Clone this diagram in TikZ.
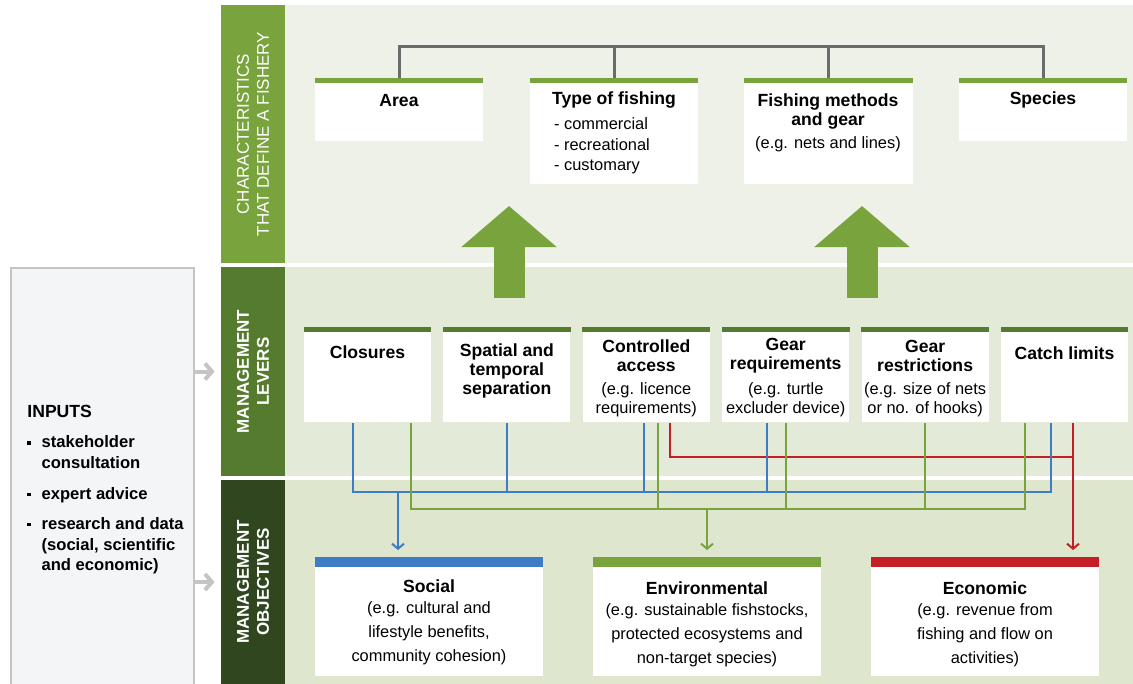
\documentclass[tikz,border=0pt]{standalone}
\usepackage{fontspec}
\setmainfont{Liberation Sans}
\usetikzlibrary{arrows.meta}

\definecolor{leafgreen}{HTML}{79A33D}
\definecolor{levergreen}{HTML}{557B2E}
\definecolor{darkgreen}{HTML}{2F461E}
\definecolor{topbg}{HTML}{EEF1E7}
\definecolor{midbg}{HTML}{E4EAD8}
\definecolor{lowbg}{HTML}{DEE6CD}
\definecolor{socialblue}{HTML}{3E7DC5}
\definecolor{econred}{HTML}{C41F27}
\definecolor{inputgray}{HTML}{F4F5F7}
\definecolor{edgegray}{HTML}{C4C4C4}
\definecolor{treegray}{HTML}{6B6B6B}
\newcommand{\dotmark}{\raisebox{1.6pt}{\rule{1.6pt}{1.6pt}}}

\begin{document}
\begin{tikzpicture}[x=0.5pt,y=-0.5pt]
\tikzstyle{band}=[rectangle,inner sep=0pt,minimum width=32pt]
\tikzstyle{bandtext}=[font=\fontsize{8.5}{10}\selectfont\bfseries,text=white,align=center,rotate=90]
\tikzstyle{box}=[rectangle,fill=white,inner sep=0pt,anchor=north]
\tikzstyle{title}=[font=\fontsize{8.8}{9.5}\selectfont\bfseries,align=center,inner sep=0pt]
\tikzstyle{note}=[font=\fontsize{8.2}{9.5}\selectfont,align=center,inner sep=0pt]
\tikzstyle{objnote}=[font=\fontsize{8.2}{11.9}\selectfont,align=center,inner sep=0pt]
\tikzstyle{wire}=[line width=1pt]
\tikzstyle{wiretip}=[-{Straight Barb[length=2.5pt,width=6pt]},shorten >=3.5pt]
\useasboundingbox (0,0) rectangle (1133,684);
% bands
\fill[topbg] (285,5) rectangle (1133,263);
\fill[midbg] (285,267) rectangle (1133,476);
\fill[lowbg] (285,480) rectangle (1133,684);
\node[band,fill=leafgreen,minimum height=129pt] (charband) at (253,134) {};
\node[band,fill=levergreen,minimum height=104.5pt] (leverband) at (253,371.5) {};
\node[band,fill=darkgreen,minimum height=102pt] (goalband) at (253,582) {};
\node[bandtext,font=\fontsize{8.5}{10}\selectfont] (chartext) at (charband) {CHARACTERISTICS\\THAT DEFINE A FISHERY};
\node[bandtext] (levertext) at (leverband) {MANAGEMENT\\LEVERS};
\node[bandtext] (goaltext) at (goalband) {MANAGEMENT\\OBJECTIVES};

% inputs
\node[rectangle,draw=edgegray,line width=1pt,fill=inputgray,minimum width=91.5pt,minimum height=216pt,anchor=north west,inner sep=0pt] (inputs) at (10,267) {};
\node[anchor=north west,inner sep=0pt,font=\fontsize{8.3}{10.3}\selectfont\bfseries] (inputlist) at (27,403) {\begin{tabular}{@{}l@{\hspace{5.5pt}}l@{}}
\multicolumn{2}{@{}l@{}}{\fontsize{8.8}{10.3}\selectfont INPUTS}\\[4.7pt]
\dotmark & stakeholder\\
 & consultation\\[5pt]
\dotmark & expert advice\\[5pt]
\dotmark & research and data\\
 & (social, scientific\\
 & and economic)
\end{tabular}};
\draw[edgegray,line width=2pt,-{Straight Barb[length=3.5pt,width=8pt]}] (inputs.east |- leverband) -- ([xshift=-3pt]leverband.west);
\draw[edgegray,line width=2pt,-{Straight Barb[length=3.5pt,width=8pt]}] (inputs.east |- goalband) -- ([xshift=-3pt]goalband.west);

% characteristics
\node[box,minimum width=84pt,minimum height=31.5pt] (area) at (399,78) {};
\node[box,minimum width=84pt,minimum height=53pt] (fishtype) at (614,78) {};
\node[box,minimum width=84.5pt,minimum height=53pt] (methods) at (828.5,78) {};
\node[box,minimum width=84pt,minimum height=31.5pt] (species) at (1043,78) {};
\draw[treegray,line width=1.5pt] (area.north) -- ++(0,-31) -| (species.north);
\draw[treegray,line width=1.5pt] (fishtype.north) -- ++(0,-31);
\draw[treegray,line width=1.5pt] (methods.north) -- ++(0,-31);
\fill[leafgreen] (area.north west) rectangle ([yshift=-2.5pt]area.north east);
\fill[leafgreen] (fishtype.north west) rectangle ([yshift=-2.5pt]fishtype.north east);
\fill[leafgreen] (methods.north west) rectangle ([yshift=-2.5pt]methods.north east);
\fill[leafgreen] (species.north west) rectangle ([yshift=-2.5pt]species.north east);
\node[title] (areatxt) at (399,101) {Area};
\node[title] (typetxt) at (614,100) {Type of fishing};
\node[note,font=\fontsize{8.2}{10.25}\selectfont,align=left] (typelist) at (602,146) {- commercial\\- recreational\\- customary};
\node[title] (methodstxt) at (828,111) {Fishing methods\\and gear};
\node[note] (methodsnote) at (828,144) {(e.g. nets and lines)};
\node[title] (speciestxt) at (1043,100) {Species};

% big arrows
\coordinate (liftA) at (509,298);
\coordinate (liftB) at (862,298);
\draw[leafgreen,line width=15.5pt,-{Triangle[width=46.5pt,length=20.5pt]}] (liftA) -- ++(0,-92);
\draw[leafgreen,line width=15.5pt,-{Triangle[width=46.5pt,length=20.5pt]}] (liftB) -- ++(0,-92);

% levers
\tikzstyle{lever}=[box,minimum width=63.5pt,minimum height=47.5pt]
\node[lever] (closures) at (367.5,327) {};
\node[lever] (spatial) at (506.9,327) {};
\node[lever] (access) at (646.3,327) {};
\node[lever] (gearreq) at (785.7,327) {};
\node[lever] (gearres) at (925.1,327) {};
\node[lever] (catch) at (1064.5,327) {};
\fill[levergreen] (closures.north west) rectangle ([yshift=-2.5pt]closures.north east);
\fill[levergreen] (spatial.north west) rectangle ([yshift=-2.5pt]spatial.north east);
\fill[levergreen] (access.north west) rectangle ([yshift=-2.5pt]access.north east);
\fill[levergreen] (gearreq.north west) rectangle ([yshift=-2.5pt]gearreq.north east);
\fill[levergreen] (gearres.north west) rectangle ([yshift=-2.5pt]gearres.north east);
\fill[levergreen] (catch.north west) rectangle ([yshift=-2.5pt]catch.north east);
\node[title] (closurestxt) at (367.5,352) {Closures};
\node[title] (spatialtxt) at (506.9,370.5) {Spatial and\\temporal\\separation};
\node[title] (accesstxt) at (646.3,356) {Controlled\\access};
\node[note] (accessnote) at (646.3,400) {(e.g. licence\\requirements)};
\node[title] (gearreqtxt) at (785.7,356) {Gear\\requirements};
\node[note] (gearreqnote) at (785.7,400) {(e.g. turtle\\excluder device)};
\node[title] (gearrestxt) at (925.1,356) {Gear\\restrictions};
\node[note] (gearresnote) at (925.1,400) {(e.g. size of nets\\or no. of hooks)};
\node[title] (catchtxt) at (1064.5,353) {Catch limits};

% objectives
\tikzstyle{goal}=[box,minimum width=114pt,minimum height=59.5pt]
\node[goal] (social) at (429,557) {};
\node[goal] (environ) at (707,557) {};
\node[goal] (economic) at (985,557) {};
\fill[socialblue] (social.north west) rectangle ([yshift=-5pt]social.north east);
\fill[leafgreen] (environ.north west) rectangle ([yshift=-5pt]environ.north east);
\fill[econred] (economic.north west) rectangle ([yshift=-5pt]economic.north east);
\node[title] (socialtxt) at (429,586) {Social};
\node[objnote] (socialnote) at (429,633) {(e.g. cultural and\\lifestyle benefits,\\community cohesion)};
\node[title] (environtxt) at (707,588) {Environmental};
\node[objnote] (environnote) at (707,635.5) {(e.g. sustainable fishstocks,\\protected ecosystems and\\non-target species)};
\node[title] (economictxt) at (985,588) {Economic};
\node[objnote] (economicnote) at (985,635.5) {(e.g. revenue from\\fishing and flow on\\activities)};

% wires
\coordinate (redbus) at (0,457);
\coordinate (bluebus) at (0,492);
\coordinate (greenbus) at (0,509);
\coordinate (cloB) at ([xshift=-7.25pt]closures.south);
\coordinate (cloG) at ([xshift=21.75pt]closures.south);
\coordinate (spaB) at (spatial.south);
\coordinate (conB) at ([xshift=-1.2pt]access.south);
\coordinate (conG) at ([xshift=5.85pt]access.south);
\coordinate (conR) at ([xshift=11.85pt]access.south);
\coordinate (reqB) at ([xshift=-9.35pt]gearreq.south);
\coordinate (reqG) at (gearreq.south);
\coordinate (resG) at (gearres.south);
\coordinate (catG) at ([xshift=-19.75pt]catch.south);
\coordinate (catB) at ([xshift=-6.75pt]catch.south);
\coordinate (catR) at ([xshift=4.25pt]catch.south);
\coordinate (socialin) at ([xshift=-15.5pt]social.north);
\draw[wire,econred] (conR) |- (catR |- redbus);
\draw[wire,econred,wiretip] (catR) -- (catR |- economic.north);
\draw[wire,socialblue] (cloB) |- (catB |- bluebus) -- (catB);
\draw[wire,socialblue] (spaB) -- (spaB |- bluebus);
\draw[wire,socialblue] (conB) -- (conB |- bluebus);
\draw[wire,socialblue] (reqB) -- (reqB |- bluebus);
\draw[wire,socialblue,wiretip] (socialin |- bluebus) -- (socialin);
\draw[wire,leafgreen] (cloG) |- (catG |- greenbus) -- (catG);
\draw[wire,leafgreen] (conG) -- (conG |- greenbus);
\draw[wire,leafgreen] (reqG) -- (reqG |- greenbus);
\draw[wire,leafgreen] (resG) -- (resG |- greenbus);
\draw[wire,leafgreen,wiretip] (environ.north |- greenbus) -- (environ.north);
\end{tikzpicture}
\end{document}
